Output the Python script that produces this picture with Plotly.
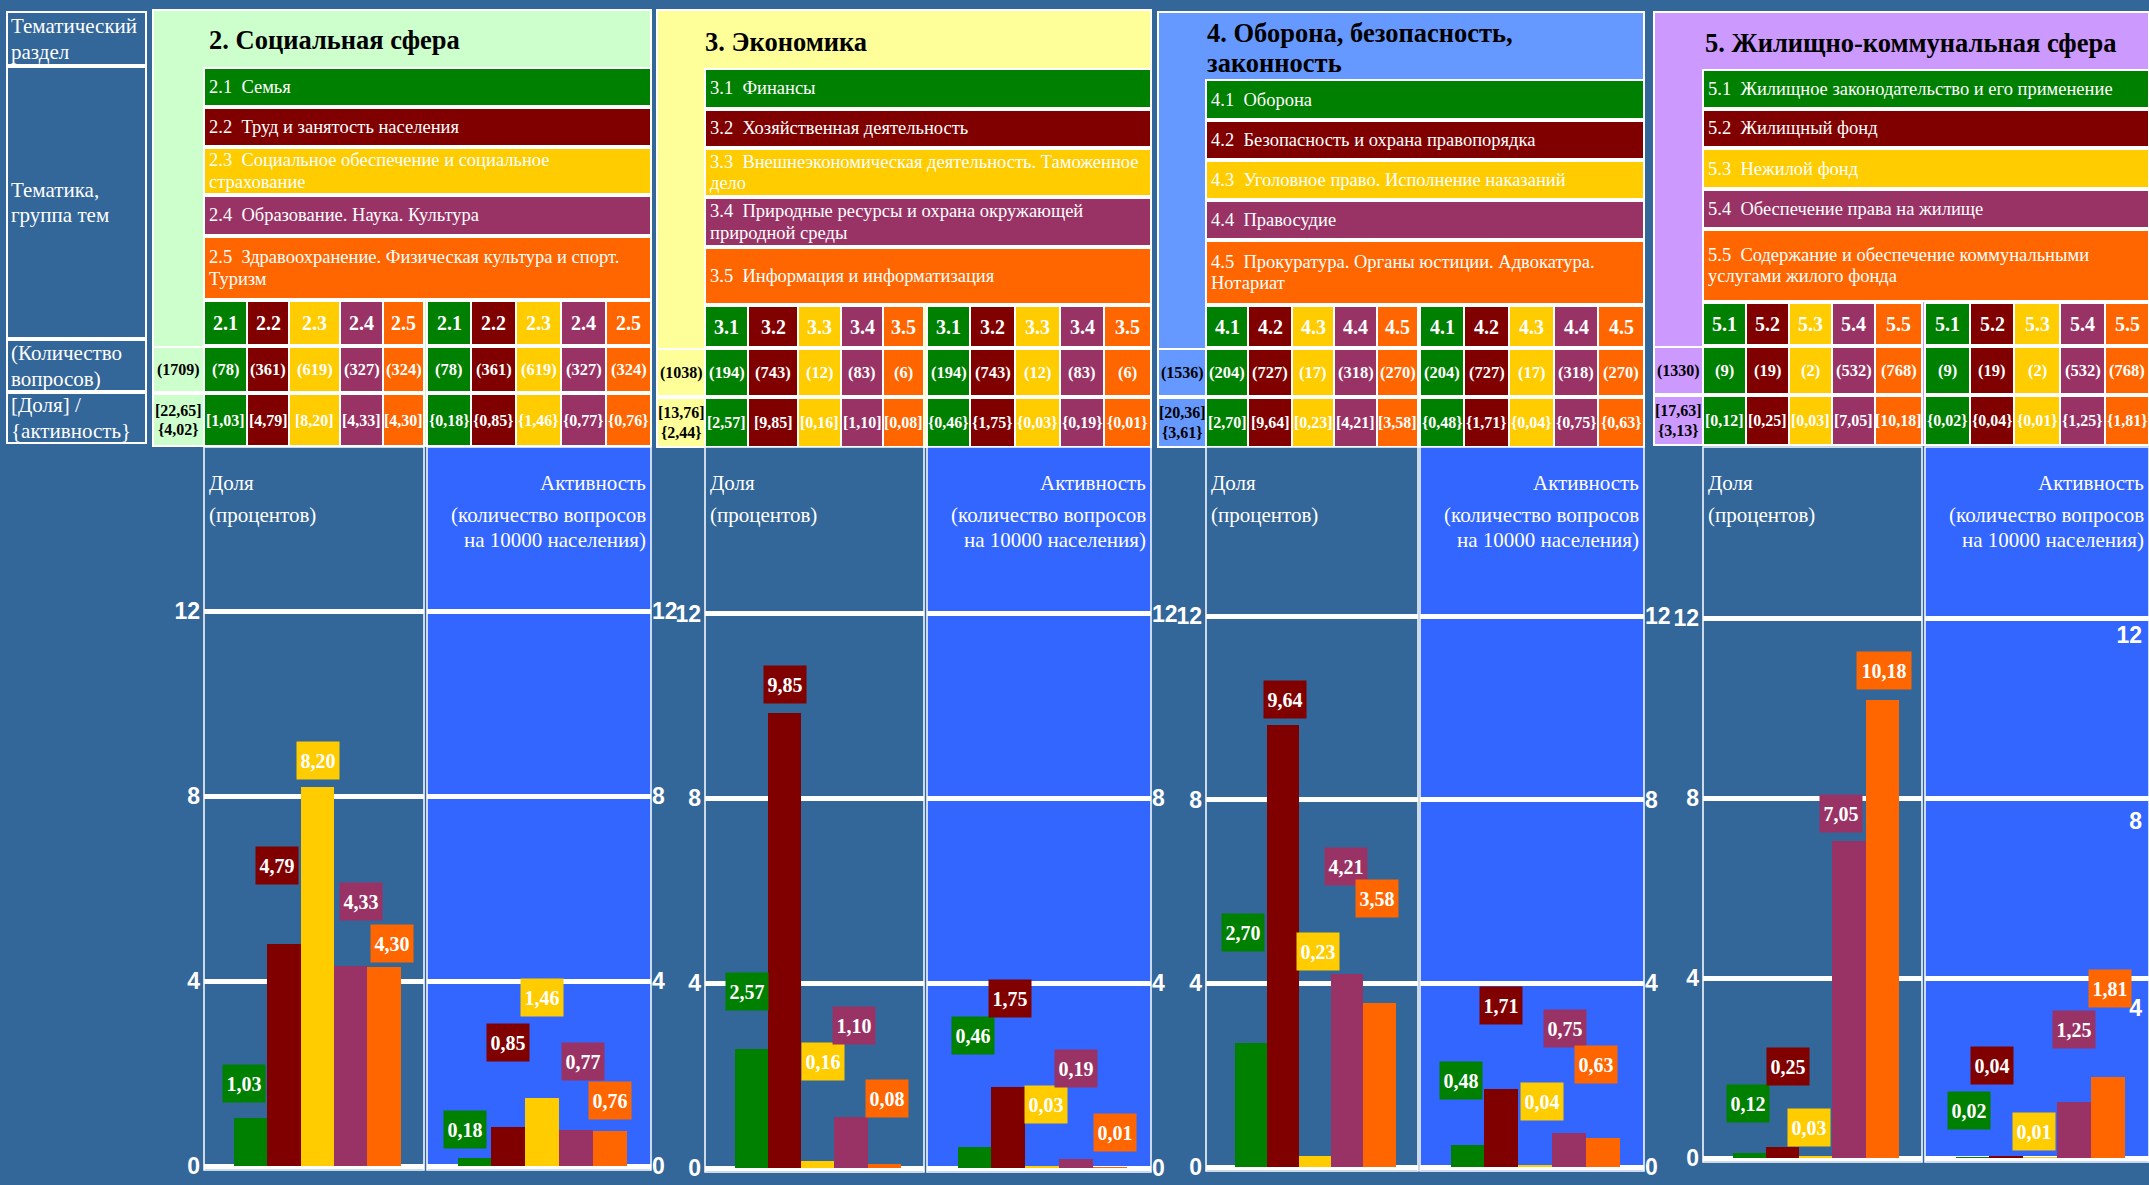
"""
plot.py
-------
Thematic breakdown of citizens' questions: share (percent) and activity
(questions per 10000 population) for sections 2-5, drawn as a header table
plus eight small bar panels.
"""

import plotly.graph_objects as go

# ---------------------------------------------------------------- data ----
section_titles = [
    "2. Социальная сфера",
    "3. Экономика",
    "4. Оборона, безопасность,<br>законность",
    "5. Жилищно-коммунальная сфера",
]

topic_codes = [
    ["2.1", "2.2", "2.3", "2.4", "2.5"],
    ["3.1", "3.2", "3.3", "3.4", "3.5"],
    ["4.1", "4.2", "4.3", "4.4", "4.5"],
    ["5.1", "5.2", "5.3", "5.4", "5.5"],
]

topic_names = [
    ["Семья",
     "Труд и занятость населения",
     "Социальное обеспечение и социальное<br>страхование",
     "Образование. Наука. Культура",
     "Здравоохранение. Физическая культура и спорт.<br>Туризм"],
    ["Финансы",
     "Хозяйственная деятельность",
     "Внешнеэкономическая деятельность. Таможенное<br>дело",
     "Природные ресурсы и охрана окружающей<br>природной среды",
     "Информация и информатизация"],
    ["Оборона",
     "Безопасность и охрана правопорядка",
     "Уголовное право. Исполнение наказаний",
     "Правосудие",
     "Прокуратура. Органы юстиции. Адвокатура.<br>Нотариат"],
    ["Жилищное законодательство и его применение",
     "Жилищный фонд",
     "Нежилой фонд",
     "Обеспечение права на жилище",
     "Содержание и обеспечение коммунальными<br>услугами жилого фонда"],
]

total_counts = [1709, 1038, 1536, 1330]
total_share = [22.65, 13.76, 20.36, 17.63]
total_activity = [4.02, 2.44, 3.61, 3.13]

topic_counts = [
    [78, 361, 619, 327, 324],
    [194, 743, 12, 83, 6],
    [204, 727, 17, 318, 270],
    [9, 19, 2, 532, 768],
]

share = [
    [1.03, 4.79, 8.20, 4.33, 4.30],
    [2.57, 9.85, 0.16, 1.10, 0.08],
    [2.70, 9.64, 0.23, 4.21, 3.58],
    [0.12, 0.25, 0.03, 7.05, 10.18],
]

activity = [
    [0.18, 0.85, 1.46, 0.77, 0.76],
    [0.46, 1.75, 0.03, 0.19, 0.01],
    [0.48, 1.71, 0.04, 0.75, 0.63],
    [0.02, 0.04, 0.01, 1.25, 1.81],
]

row_labels = ["Тематический<br>раздел", "Тематика,<br>группа тем",
              "(Количество<br>вопросов)", "[Доля] /<br>{активность}"]
y_ticks = [0, 4, 8, 12]

# ------------------------------------------------------------- styling ----
W, H = 2149, 1185
PAGE = "#336699"
ACT_BG = "#3366FF"
SERIF = "Liberation Serif, Times New Roman, serif"
SANS = "Liberation Sans, Arial, sans-serif"
TOPIC_COLORS = ["#008000", "#800000", "#FFCC00", "#993366", "#FF6600"]
SEC_COLORS = ["#CCFFCC", "#FFFF99", "#6699FF", "#CC99FF"]
TICK_FONT = dict(family=SANS, size=23, color="white", weight="bold")

# layout in page pixels
SEC_BG = [(153, 651, 10, 446), (657, 1151, 10, 447), (1158, 1644, 12, 447), (1654, 2149, 12, 445)]
TITLE_XY = [(208, 40), (704, 42), (1206, 48), (1704, 43)]
COL_EDGES = [
    ([204, 247, 289, 340, 383, 424], [427, 471, 516, 561, 606, 651]),
    ([705, 748, 798, 841, 883, 924], [927, 970, 1015, 1060, 1104, 1151]),
    ([1206, 1248, 1292, 1334, 1377, 1418], [1420, 1464, 1509, 1554, 1598, 1644]),
    ([1703, 1746, 1789, 1832, 1875, 1922], [1925, 1970, 2014, 2060, 2105, 2149]),
]
ROW_Y = [
    [(68, 106), (108, 146), (148, 194), (196, 235), (237, 299)],
    [(69, 108), (110, 147), (149, 196), (198, 246), (248, 304)],
    [(80, 119), (121, 159), (161, 199), (201, 239), (241, 304)],
    [(70, 108), (110, 147), (149, 188), (190, 228), (230, 301)],
]
CODE_Y = [(301, 345), (306, 347), (306, 347), (303, 345)]
COUNT_Y = [(347, 392), (349, 396), (349, 396), (347, 394)]
SHARE_Y = [(394, 446), (398, 447), (398, 447), (396, 445)]
LEFT_BOXES = [(12, 65), (67, 338), (340, 391), (393, 443)]

PLOT_TOP = 447
Y_ZERO = [1166, 1168, 1167, 1158]
Y_PPU = [46.25, 46.2, 45.9, 45.0]
X_RANGE = [-1.4, 5.2]

# value-label offsets from the bar top (px)
LABEL_DY = [
    ([35, 79, 26, 64, 24], [28, 84, 101, 69, 30]),
    ([58, 28, 99, 92, 66], [111, 89, 62, 91, 35]),
    ([111, 25, 205, 107, 104], [64, 83, 64, 104, 74]),
    ([49, 80, 29, 27, 29], [47, 91, 26, 72, 88]),
]
LABEL_DX = [
    ([-7, -7, 1, 10, 8], [-10, 0, 0, 7, 0]),
    ([-4, 0, 5, 3, 3], [-2, 2, 4, 0, 5]),
    ([-8, 2, 3, -1, -2], [-7, 0, 7, -4, -7]),
    ([-1, 5, -7, -8, 2], [-4, -14, -6, 0, 2]),
]


def fx(px):
    return min(max(px / W, 0), 1)


def fy(py):
    return min(max(1 - py / H, 0), 1)


def fmt(v):
    return f"{v:.2f}".replace(".", ",")


def rect(x0, x1, y0, y1, fill, lw=2):
    return dict(type="rect", xref="paper", yref="paper", layer="below",
                x0=x0 / W, x1=x1 / W, y0=1 - y0 / H, y1=1 - y1 / H,
                fillcolor=fill, line=dict(color="white", width=lw))


def text(x, y, s, size, color="white", bold=False, family=SERIF, xanchor="center", spacing=None):
    """One annotation per line so the line spacing can follow the reference."""
    lines = s.split("<br>")
    spacing = spacing or size * 1.2
    top = y - spacing * (len(lines) - 1) / 2
    out = []
    for j, line in enumerate(lines):
        if bold:
            line = f"<b>{line}</b>"
        out.append(dict(xref="paper", yref="paper", x=x / W, y=1 - (top + j * spacing) / H,
                        text=line, showarrow=False, xanchor=xanchor, yanchor="middle",
                        borderpad=0, font=dict(family=family, size=size, color=color)))
    return out


shapes = []
annotations = []

# left header column
for (y0, y1), lab in zip(LEFT_BOXES, row_labels):
    shapes.append(rect(7, 146, y0, y1, PAGE))
    annotations += text(10, (y0 + y1) / 2, lab, 21, xanchor="left", spacing=26)

fig = go.Figure()
axes = {}

for s in range(4):
    bx0, bx1, by0, by1 = SEC_BG[s]
    g1, g2 = COL_EDGES[s]
    shapes.append(rect(bx0, bx1, by0, by1, SEC_COLORS[s]))
    tx, ty = TITLE_XY[s]
    annotations += text(tx, ty, section_titles[s], 26.5, color="black", bold=True,
                        xanchor="left", spacing=30)

    # topic rows
    for i in range(5):
        y0, y1 = ROW_Y[s][i]
        shapes.append(rect(g1[0], g2[-1], y0, y1, TOPIC_COLORS[i]))
        annotations += text(g1[0] + 4, (y0 + y1) / 2,
                            f"{topic_codes[s][i]}\u00a0 {topic_names[s][i]}", 18.5,
                            xanchor="left", spacing=21.5)

    # totals column
    cy0, cy1 = COUNT_Y[s]
    sy0, sy1 = SHARE_Y[s]
    shapes.append(rect(bx0, g1[0], cy0, cy1, SEC_COLORS[s]))
    shapes.append(rect(bx0, g1[0], sy0, sy1, SEC_COLORS[s]))
    annotations += text((bx0 + g1[0]) / 2, (cy0 + cy1) / 2, f"({total_counts[s]})", 16,
                        color="black", bold=True)
    annotations += text((bx0 + g1[0]) / 2, (sy0 + sy1) / 2,
                        f"[{fmt(total_share[s])}]<br>{{{fmt(total_activity[s])}}}", 16,
                        color="black", bold=True, spacing=19.5)

    # code / count / value cells for both groups
    for k, edges in enumerate((g1, g2)):
        vals = share[s] if k == 0 else activity[s]
        for i in range(5):
            x0, x1 = edges[i], edges[i + 1]
            xc = (x0 + x1) / 2
            for (y0, y1) in (CODE_Y[s], COUNT_Y[s], SHARE_Y[s]):
                shapes.append(rect(x0, x1, y0, y1, TOPIC_COLORS[i]))
            annotations += text(xc, sum(CODE_Y[s]) / 2, topic_codes[s][i], 20, bold=True)
            annotations += text(xc, sum(COUNT_Y[s]) / 2, f"({topic_counts[s][i]})", 16.5, bold=True)
            v = f"[{fmt(vals[i])}]" if k == 0 else f"{{{fmt(vals[i])}}}"
            annotations += text(xc, sum(SHARE_Y[s]) / 2, v, 16, bold=True)

    # bar panels
    zero, ppu = Y_ZERO[s], Y_PPU[s]
    bottom = zero + 4
    for k, edges in enumerate((g1, g2)):
        vals = share[s] if k == 0 else activity[s]
        n = 2 * s + k + 1
        xa, ya = ("x", "y") if n == 1 else (f"x{n}", f"y{n}")
        xkey, ykey = ("xaxis", "yaxis") if n == 1 else (f"xaxis{n}", f"yaxis{n}")

        shapes.append(rect(edges[0], edges[-1], PLOT_TOP, bottom, PAGE if k == 0 else ACT_BG, lw=1.5))

        axes[xkey] = dict(domain=[fx(edges[0]), fx(edges[-1])], anchor=ya, range=X_RANGE,
                          showticklabels=False, showgrid=False, zeroline=False, showline=False,
                          automargin=False)
        axes[ykey] = dict(domain=[fy(bottom), fy(PLOT_TOP)], anchor=xa,
                          range=[-(bottom - zero) / ppu, (zero - PLOT_TOP) / ppu],
                          side="left" if k == 0 else "right",
                          tickvals=y_ticks, showgrid=True, gridcolor="white", gridwidth=4.5,
                          zeroline=False, showline=False, ticks="",
                          showticklabels=n != 8, automargin=False,
                          ticklabelstandoff=3 if k == 0 else 0,
                          tickfont=TICK_FONT)

        fig.add_trace(go.Bar(x=list(range(5)), y=vals, xaxis=xa, yaxis=ya,
                             marker=dict(color=TOPIC_COLORS, line=dict(width=0)),
                             showlegend=False, hoverinfo="skip"))

        for i, v in enumerate(vals):
            lab = fmt(v)
            annotations.append(dict(xref=xa, yref=ya, x=i, y=v, text=f"<b>{lab}</b>",
                                    showarrow=False, xanchor="center", yanchor="middle",
                                    xshift=LABEL_DX[s][k][i], yshift=LABEL_DY[s][k][i],
                                    width=42 if len(lab) == 4 else 54, height=37,
                                    bgcolor=TOPIC_COLORS[i], borderpad=0,
                                    font=dict(family=SERIF, size=20, color="white")))

        # panel captions
        if k == 0:
            annotations += text(edges[0] + 4, 483, "Доля", 21, xanchor="left")
            annotations += text(edges[0] + 4, 515, "(процентов)", 21, xanchor="left")
        else:
            annotations += text(edges[-1] - 4, 483, "Активность", 21, xanchor="right")
            annotations += text(edges[-1] - 4, 527.5, "(количество вопросов<br>на 10000 населения)",
                                21, xanchor="right", spacing=25)

# stray inner scale on the last activity panel
axes["yaxis9"] = dict(domain=[fy(H), fy(PLOT_TOP)], anchor="x8",
                      range=[(1194 - H) / 46.6, (1194 - PLOT_TOP) / 46.6],
                      side="right", ticklabelposition="inside", tickvals=[4, 8, 12],
                      ticks="", ticklabelstandoff=4, automargin=False,
                      showgrid=False, zeroline=False, showline=False,
                      tickfont=TICK_FONT)
fig.add_trace(go.Scatter(x=[None], y=[None], xaxis="x8", yaxis="y9",
                         showlegend=False, hoverinfo="skip"))

fig.update_layout(
    width=W, height=H,
    margin=dict(l=0, r=0, t=0, b=0, autoexpand=False),
    paper_bgcolor=PAGE, plot_bgcolor="rgba(0,0,0,0)",
    bargap=0,
    shapes=shapes,
    annotations=annotations,
    **axes,
)

# the page itself should not add a white frame around the figure
fig.write_html("out.html", config={"displayModeBar": False},
               post_script="document.body.style.margin='0';document.body.style.background='#336699';")
